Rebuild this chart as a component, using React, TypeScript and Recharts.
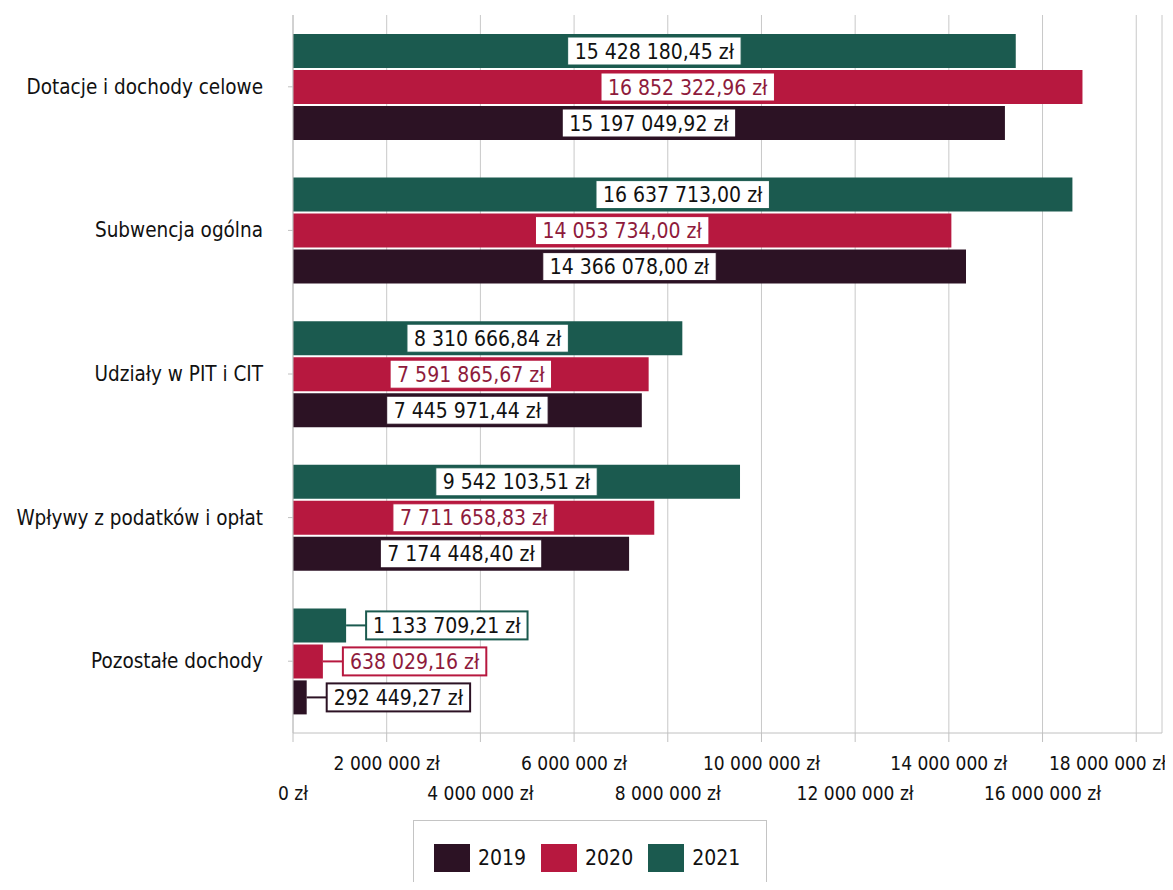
import React from 'react';
import { BarChart, Bar, XAxis, YAxis, CartesianGrid } from 'recharts';

const categories = [
  'Dotacje i dochody celowe',
  'Subwencja ogólna',
  'Udziały w PIT i CIT',
  'Wpływy z podatków i opłat',
  'Pozostałe dochody',
];
const values2019 = [15197049.92, 14366078.0, 7445971.44, 7174448.4, 292449.27];
const values2020 = [16852322.96, 14053734.0, 7591865.67, 7711658.83, 638029.16];
const values2021 = [15428180.45, 16637713.0, 8310666.84, 9542103.51, 1133709.21];
const seriesNames = ['2019', '2020', '2021'];
const xTicks = [0, 2000000, 4000000, 6000000, 8000000, 10000000, 12000000, 14000000, 16000000, 18000000];
const xMax = 18550000;

const data = categories.map((name, i) => ({
  name,
  y2019: values2019[i],
  y2020: values2020[i],
  y2021: values2021[i],
}));

const COLORS: Record<string, string> = { '2019': '#2C1224', '2020': '#B7183F', '2021': '#1B5A4F' };
const TEXT_COLORS: Record<string, string> = { '2019': '#111111', '2020': '#8E1B3C', '2021': '#111111' };

const FONT = "'DejaVu Sans Condensed', 'DejaVu Sans', sans-serif";
const W = 1160;
const H = 874;

function fmt(v: number, decimals: number) {
  const fixed = v.toFixed(decimals);
  const [intPart, dec] = fixed.split('.');
  const grouped = intPart.replace(/\B(?=(\d{3})+(?!\d))/g, ' ');
  return (dec ? grouped + ',' + dec : grouped) + ' zł';
}

let ctx: CanvasRenderingContext2D | null = null;
function textWidth(s: string, size: number) {
  if (typeof document !== 'undefined') {
    if (!ctx) ctx = document.createElement('canvas').getContext('2d');
    if (ctx) {
      ctx.font = `${size}px 'DejaVu Sans Condensed', 'DejaVu Sans', sans-serif`;
      return ctx.measureText(s).width;
    }
  }
  return s.length * size * 0.5;
}

const LABEL_SIZE = 21;

function makeLabel(series: string) {
  return (props: any) => {
    const { x, y, width, height, value } = props;
    if (value == null) return null;
    const text = fmt(Number(value), 2);
    const tw = textWidth(text, LABEL_SIZE);
    const bw = tw + 14;
    const bh = 28;
    const cy = y + height / 2;
    const inside = width > bw + 20;
    let bx: number;
    let line = null;
    if (inside) {
      bx = x + width / 2 - bw / 2;
    } else {
      const ex = x + width;
      bx = ex + 20;
      line = <line x1={ex} y1={cy} x2={bx} y2={cy} stroke={COLORS[series]} strokeWidth={2} />;
    }
    return (
      <g>
        {line}
        <rect x={bx} y={cy - bh / 2} width={bw} height={bh} fill="#ffffff" stroke={COLORS[series]} strokeWidth={inside ? 1 : 2} />
        <text
          x={bx + bw / 2}
          y={cy + LABEL_SIZE * 0.36}
          textAnchor="middle"
          fontFamily={FONT}
          fontSize={LABEL_SIZE}
          fill={TEXT_COLORS[series]}
        >
          {text}
        </text>
      </g>
    );
  };
}

const X_SIZE = 19;
const XTick = (props: any) => {
  const { x, y, payload } = props;
  const v = payload.value;
  const i = xTicks.indexOf(v);
  const upper = i % 2 === 1;
  const label = fmt(v, 0);
  const tw = textWidth(label, X_SIZE);
  let tx = x;
  let anchor: 'middle' | 'end' = 'middle';
  if (x + tw / 2 > W - 2) {
    tx = W - 2;
    anchor = 'end';
  }
  return (
    <text x={tx} y={y + (upper ? 26 : 56)} textAnchor={anchor} fontFamily={FONT} fontSize={X_SIZE} fill="#111111">
      {label}
    </text>
  );
};

const YTick = (props: any) => {
  const { x, y, payload } = props;
  return (
    <text x={x} y={y + 7} textAnchor="end" fontFamily={FONT} fontSize={20.5} fill="#111111">
      {payload.value}
    </text>
  );
};

const LegendBox = () => (
  <div
    style={{
      position: 'absolute',
      left: 405,
      top: 812,
      width: 354,
      height: 100,
      border: '1px solid #c4c4c4',
      boxSizing: 'border-box',
      background: '#ffffff',
      fontFamily: FONT,
      fontSize: 21,
      color: '#111111',
    }}
  >
    <div style={{ display: 'flex', alignItems: 'center', paddingLeft: 20, paddingTop: 23 }}>
      {seriesNames.map((s) => (
        <div key={s} style={{ display: 'flex', alignItems: 'center', marginRight: 15 }}>
          <div style={{ width: 36, height: 28, background: COLORS[s], marginRight: 8 }} />
          <span style={{ lineHeight: '28px' }}>{s}</span>
        </div>
      ))}
    </div>
  </div>
);

export default function App() {
  return (
    <div style={{ position: 'relative', width: W, height: H, overflow: 'hidden', background: '#ffffff' }}>
      <BarChart
        width={W}
        height={H}
        data={data}
        layout="vertical"
        margin={{ top: 7, right: 6, bottom: 59, left: 0 }}
        barSize={34}
        barGap={2}
      >
        <CartesianGrid horizontal={false} vertical={true} stroke="#c8c8c8" />
        <XAxis
          type="number"
          domain={[0, xMax]}
          ticks={xTicks}
          interval={0}
          height={90}
          tick={<XTick />}
          tickSize={9}
          tickLine={{ stroke: '#c0c0c0' }}
          axisLine={{ stroke: '#c0c0c0' }}
          allowDataOverflow
        />
        <XAxis
          xAxisId="top"
          orientation="top"
          type="number"
          domain={[0, xMax]}
          height={0}
          tick={false}
          tickLine={false}
          axisLine={{ stroke: '#c8c8c8' }}
        />
        <YAxis
          type="category"
          dataKey="name"
          width={285}
          tick={<YTick />}
          tickSize={5}
          tickMargin={25}
          tickLine={{ stroke: '#c0c0c0' }}
          axisLine={{ stroke: '#c0c0c0' }}
        />
        <YAxis
          yAxisId="right"
          orientation="right"
          type="category"
          dataKey="name"
          width={0}
          tick={false}
          tickLine={false}
          axisLine={{ stroke: '#c8c8c8' }}
        />
        <Bar dataKey="y2021" name="2021" fill={COLORS['2021']} isAnimationActive={false} label={makeLabel('2021')} />
        <Bar dataKey="y2020" name="2020" fill={COLORS['2020']} isAnimationActive={false} label={makeLabel('2020')} />
        <Bar dataKey="y2019" name="2019" fill={COLORS['2019']} isAnimationActive={false} label={makeLabel('2019')} />
      </BarChart>
      <LegendBox />
    </div>
  );
}
